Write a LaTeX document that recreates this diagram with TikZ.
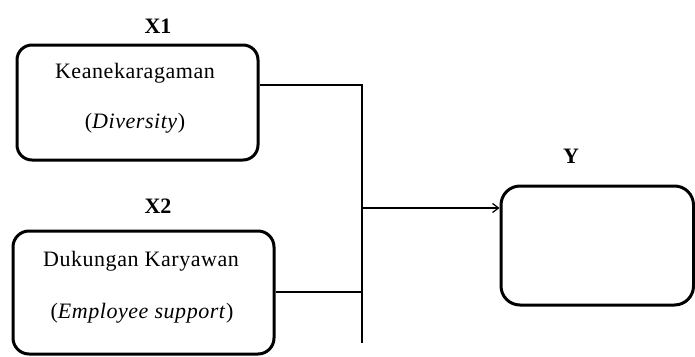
\documentclass[tikz,border=0pt]{standalone}
\usepackage{fontspec}
\setmainfont{Liberation Serif}
\newfontfamily\boxfont[LetterSpace=2.5]{Liberation Serif}
\usetikzlibrary{arrows.meta}
\begin{document}
\begin{tikzpicture}[x=1pt,y=-1pt,
  box/.style={draw, line width=3pt, inner sep=0pt, anchor=north west},
  conn/.style={line width=1.4pt},
  lbl/.style={font=\fontsize{22}{26}\selectfont\bfseries, inner sep=0pt, anchor=base},
  txt/.style={font=\boxfont\fontsize{22}{26}\selectfont, inner sep=0pt, anchor=base}]
\useasboundingbox (0,0) rectangle (695,356);
% boxes
\node[box, rounded corners=15pt, minimum width=241pt, minimum height=115pt] (x1) at (15.5,43.5) {};
\node[box, rounded corners=16pt, minimum width=261pt, minimum height=123pt] (x2) at (11.5,229.5) {};
\node[box, rounded corners=19pt, minimum width=192.5pt, minimum height=119pt] (y) at (499.5,184.5) {};
% labels
\node[lbl] (lx1) at (158,33) {X1};
\node[lbl] (lx2) at (158,213) {X2};
\node[lbl] (ly) at (571,163) {Y};
% texts
\node[txt] (t1a) at (135,78) {Keanekaragaman};
\node[txt] (t1b) at (135,128) {(\textit{Diversity})};
\node[txt] (t2a) at (141,266) {Dukungan Karyawan};
\node[txt] (t2b) at (142,318) {(\textit{Employee support})};
% connectors
\coordinate (j1) at (362,85);
\coordinate (j2) at (362,292);
\coordinate (jm) at (362,208);
\coordinate (jb) at (362,343);
\draw[conn] (x1.east |- j1) -- (j1) -- (jb);
\draw[conn] (x2.east |- j2) -- (j2);
\draw[conn, -{Straight Barb[length=6pt,width=9pt,line width=1.2pt]}] (jm) -- (y.west |- jm);
\end{tikzpicture}
\end{document}
